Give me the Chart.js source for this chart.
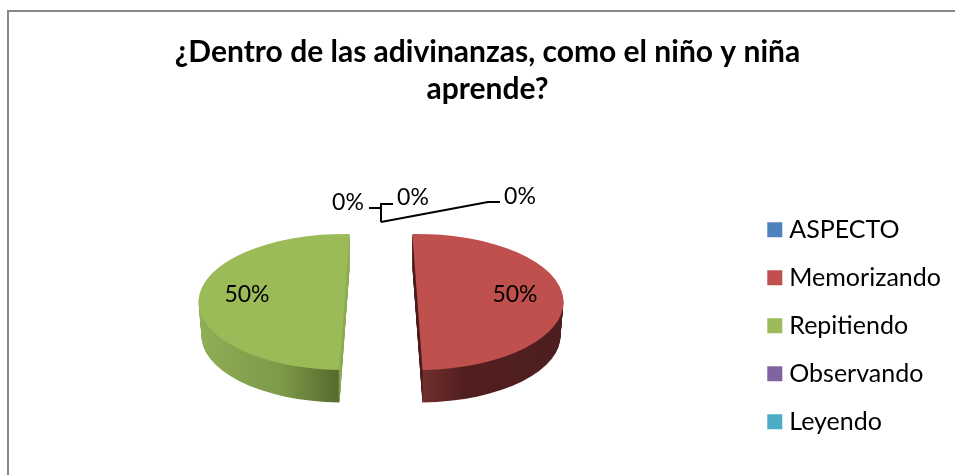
<!DOCTYPE html>
<html lang="es">
<head>
  <meta charset="UTF-8">
  <title>Adivinanzas</title>
  <script src="https://cdn.jsdelivr.net/npm/chart.js"></script>
  <style>
    html, body { margin: 0; padding: 0; background: #fff; overflow: hidden; }
    #chart { position: absolute; left: 0; top: 0; }
    #frame {
      position: absolute; left: 7px; top: 10px; right: 0; bottom: 0;
      border-left: 2px solid #888; border-top: 2px solid #888;
    }
  </style>
</head>
<body>
  <canvas id="chart" width="955" height="475"></canvas>
  <div id="frame"></div>

  <script>
    const titleLines = ['¿Dentro de las adivinanzas, como el niño y niña', 'aprende?'];
    const categories = ['ASPECTO', 'Memorizando', 'Repitiendo', 'Observando', 'Leyendo'];
    const values = [0, 50, 50, 0, 0];
    const colors = ['#4F81BD', '#C0504D', '#9BBB59', '#8064A2', '#4BACC6'];

    // side wall gradients, left to right over the width of the slice
    const wallStops = {
      1: [[0.515, '#4a1b1b'], [0.52, '#702f2e'], [0.66, '#521f1f'], [1, '#4e1e1e']],
      2: [[0, '#8fae55'], [0.28, '#7d9a49'], [0.478, '#556b2f'], [0.484, '#8cab50'], [1, '#8cab50']]
    };

    // fake 3D pie: squash the circle, then stack copies underneath
    const pieCx = 381, pieCy = 302, squash = 0.466, depth = 34, shrink = 3;
    const explode = 36.5;
    // perspective tilts the two cut edges opposite ways, so the green slice gets turned a bit
    const sliceTurn = { 2: 4 * Math.PI / 180 };

    // data label spots and leader lines, by category index
    const labelSpots = { 0: [348, 203], 1: [515, 295], 2: [247, 295], 3: [413, 198], 4: [520, 197] };
    const leaders = [
      [[369, 208], [381, 208], [381, 222]],
      [[393, 204], [381, 204], [381, 222]],
      [[381, 222], [488, 202], [500, 202]]
    ];

    function placeSlice(ctx, el, i, drop) {
      const mid = (el.startAngle + el.endAngle) / 2;
      ctx.translate(pieCx + Math.cos(mid) * explode, pieCy + drop);
      ctx.scale(1, squash);
      ctx.rotate(sliceTurn[i] || 0);
      ctx.translate(-el.x, -el.y);
    }

    const pie3d = {
      id: 'pie3d',
      // the slices are drawn here, walls first, instead of by the controller
      beforeDatasetDraw(chart) {
        const ctx = chart.ctx;
        const arcs = chart.getDatasetMeta(0).data;
        arcs.forEach((el, i) => {
          if (!wallStops[i]) return;
          const R = el.outerRadius;
          // keep the gradient level on screen even when the slice is turned
          const turn = sliceTurn[i] || 0;
          const gx = Math.cos(turn) * R, gy = -Math.sin(turn) * R;
          const grad = ctx.createLinearGradient(el.x - gx, el.y - gy, el.x + gx, el.y + gy);
          wallStops[i].forEach(s => grad.addColorStop(s[0], s[1]));
          const copy = Object.create(el);
          copy.options = Object.assign({}, el.options, { backgroundColor: grad });
          for (let d = depth; d >= 1; d--) {
            copy.outerRadius = R - shrink * d / depth;
            ctx.save();
            placeSlice(ctx, el, i, d);
            el.draw.call(copy, ctx);
            ctx.restore();
          }
        });
        arcs.forEach((el, i) => {
          ctx.save();
          placeSlice(ctx, el, i, 0);
          el.draw(ctx);
          ctx.restore();
        });
        return false;
      },
      afterDraw(chart) {
        const ctx = chart.ctx;
        ctx.save();
        ctx.strokeStyle = '#000';
        ctx.lineWidth = 2;
        leaders.forEach(pts => {
          ctx.beginPath();
          pts.forEach((p, k) => k ? ctx.lineTo(p[0], p[1]) : ctx.moveTo(p[0], p[1]));
          ctx.stroke();
        });
        ctx.fillStyle = '#000';
        ctx.font = '23px Lato';
        ctx.textAlign = 'center';
        ctx.textBaseline = 'middle';
        const total = values.reduce((a, b) => a + b, 0);
        values.forEach((v, i) => {
          const spot = labelSpots[i];
          ctx.fillText(Math.round(v / total * 100) + '%', spot[0], spot[1]);
        });
        ctx.restore();
      }
    };

    new Chart(document.getElementById('chart'), {
      type: 'pie',
      data: {
        labels: categories,
        datasets: [{
          data: values,
          backgroundColor: colors,
          borderWidth: 0,
          radius: 146,
          rotation: -2
        }]
      },
      plugins: [pie3d],
      options: {
        responsive: false,
        animation: false,
        layout: { padding: { left: 24, right: 4, top: 0, bottom: 0 } },
        plugins: {
          tooltip: { enabled: false },
          title: {
            display: true,
            text: titleLines,
            color: '#000',
            font: { family: 'Lato', size: 30, weight: 'bold', lineHeight: 1.24 },
            padding: { top: 34, bottom: 68 }
          },
          legend: {
            position: 'right',
            fullSize: false,
            labels: {
              color: '#000',
              font: { family: 'Lato', size: 25, lineHeight: 1 },
              boxWidth: 4,
              boxHeight: 4,
              padding: 23,
              // thick stroke on a small box so the swatch sits closer to its text
              generateLabels(chart) {
                return Chart.overrides.pie.plugins.legend.labels.generateLabels(chart)
                  .map(item => Object.assign(item, { lineWidth: 11, strokeStyle: item.fillStyle }));
              }
            }
          }
        }
      }
    });
  </script>
</body>
</html>
